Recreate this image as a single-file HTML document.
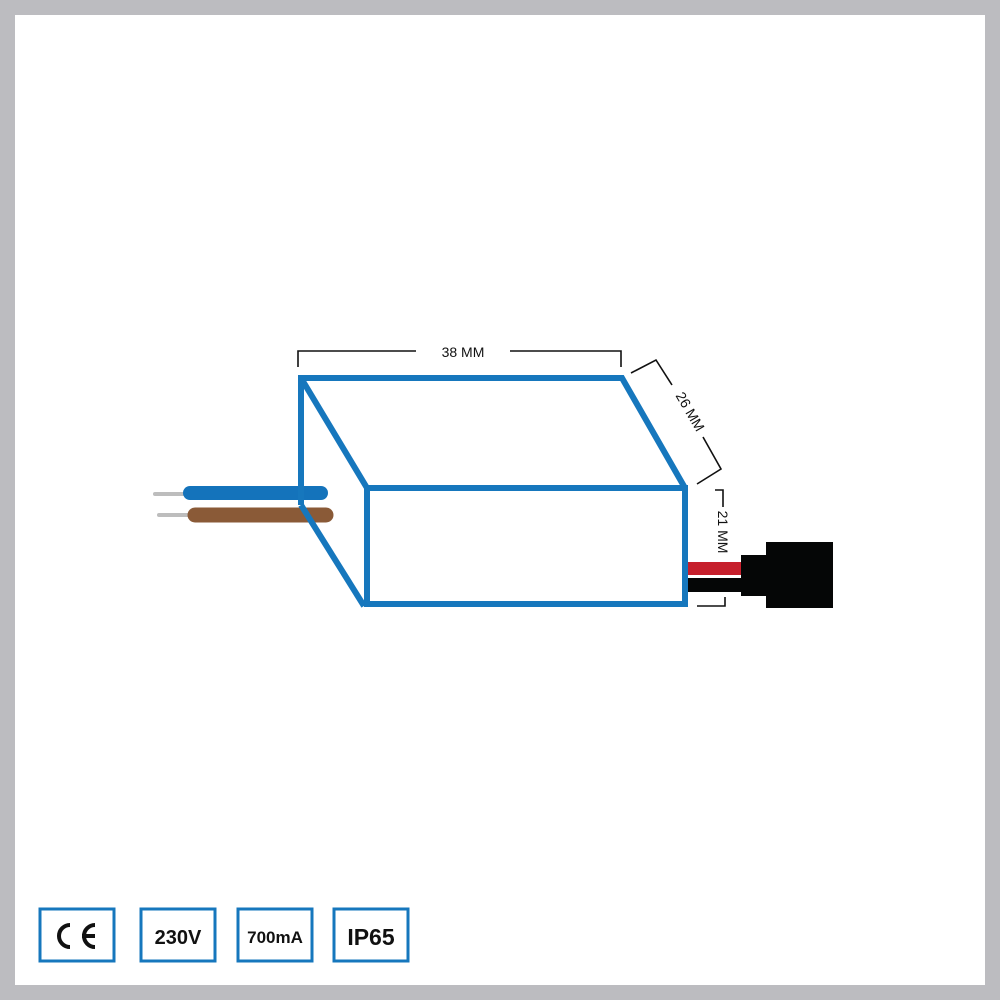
<!DOCTYPE html>
<html><head><meta charset="utf-8"><style>
html,body{margin:0;padding:0;background:#bcbcc0;}
.wrap{position:relative;width:1000px;height:1000px;}
svg{position:absolute;left:0;top:0;}
</style></head><body><div class="wrap">
<svg width="1000" height="1000" viewBox="0 0 1000 1000" xmlns="http://www.w3.org/2000/svg">
<rect x="0" y="0" width="1000" height="1000" fill="#bcbcc0"/>
<rect x="15" y="15" width="970" height="970" fill="#ffffff"/>
<line x1="155" y1="494" x2="185" y2="494" stroke="#bdbdbd" stroke-width="4" stroke-linecap="round"/>
<line x1="159" y1="515" x2="190" y2="515" stroke="#bdbdbd" stroke-width="4" stroke-linecap="round"/>
<line x1="190" y1="493" x2="321" y2="493" stroke="#1473bb" stroke-width="14" stroke-linecap="round"/>
<line x1="195" y1="515" x2="326" y2="515" stroke="#8a5a37" stroke-width="15" stroke-linecap="round"/>
<g fill="none" stroke="#1677bd" stroke-width="6" stroke-linejoin="miter">
<polyline points="301,505 301,378 622,378 685,488"/>
<line x1="301" y1="378" x2="367" y2="488"/>
<line x1="301" y1="505" x2="364" y2="606"/>
<rect x="367" y="488" width="318" height="116"/>
</g>
<rect x="688" y="562" width="54" height="13" fill="#c61f2c"/>
<rect x="688" y="578" width="54" height="14" fill="#050606"/>
<rect x="741" y="555" width="28" height="41" fill="#050606"/>
<rect x="766" y="542" width="67" height="66" fill="#050606"/>
<g fill="none" stroke="#111" stroke-width="1.6">
<polyline points="298,367 298,351 416,351"/>
<polyline points="510,351 621,351 621,367"/>
<polyline points="631,373 656,360 672,385"/>
<polyline points="703,437 721,469 697,484"/>
<polyline points="715,490 723,490 723,507"/>
<polyline points="697,606 725,606 725,597"/>
</g>
<text x="463" y="357" font-family="Liberation Sans, sans-serif" font-size="14" text-anchor="middle" fill="#111">38 MM</text>
<text transform="translate(686,414) rotate(60)" font-family="Liberation Sans, sans-serif" font-size="14" text-anchor="middle" fill="#111">26 MM</text>
<text transform="translate(718,532) rotate(90)" font-family="Liberation Sans, sans-serif" font-size="14" text-anchor="middle" fill="#111">21 MM</text>
<g fill="none" stroke="#1677bd" stroke-width="3">
<rect x="40" y="909" width="74" height="52"/>
<rect x="141" y="909" width="74" height="52"/>
<rect x="238" y="909" width="74" height="52"/>
<rect x="334" y="909" width="74" height="52"/>
</g>
<g fill="none" stroke="#111" stroke-width="4">
<path d="M70,925 A11,11 0 1 0 70,947"/>
<path d="M95,925 A11,11 0 1 0 95,947 M82,936 H95"/>
</g>
<g font-family="Liberation Sans, sans-serif" font-weight="bold" fill="#111" text-anchor="middle">
<text x="178" y="944" font-size="20">230V</text>
<text x="275" y="943" font-size="17">700mA</text>
<text x="371" y="945" font-size="23">IP65</text>
</g>
</svg>
</div></body></html>
